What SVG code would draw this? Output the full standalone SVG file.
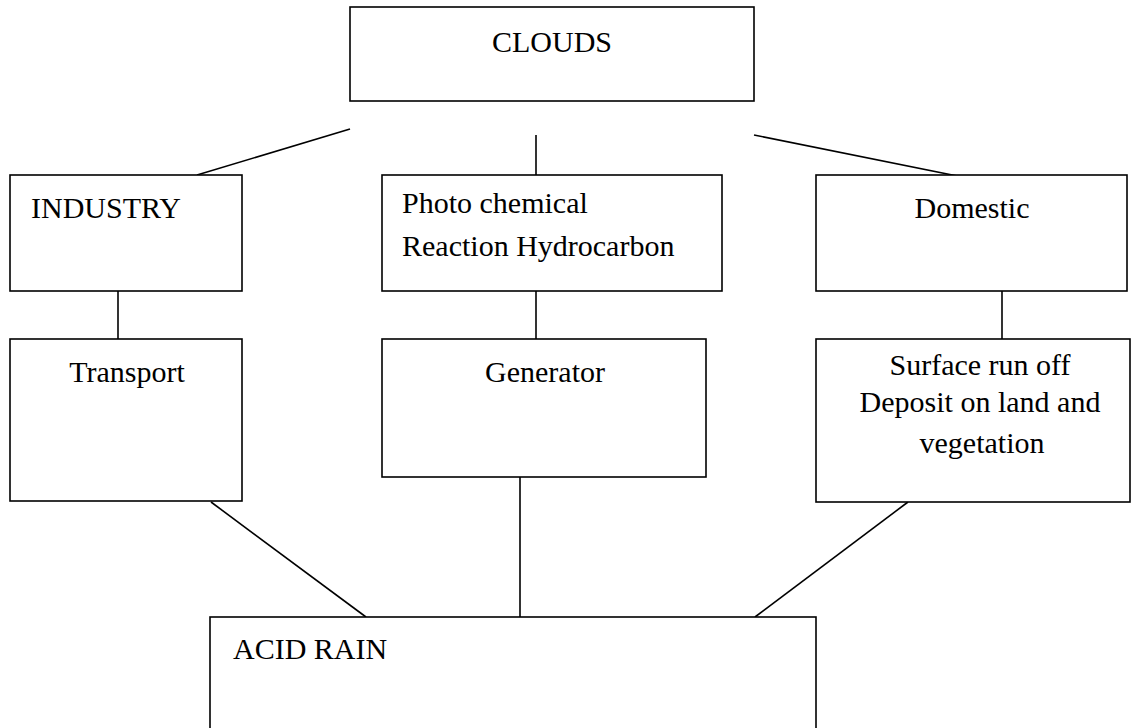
<svg xmlns="http://www.w3.org/2000/svg" width="1133" height="728" viewBox="0 0 1133 728">
<style>
.box{fill:#fff;stroke:#000;stroke-width:1.6}
.ln{stroke:#000;stroke-width:1.6;fill:none}
text{font-family:"Liberation Serif","Times New Roman",serif;font-size:30px;fill:#000}
.m{text-anchor:middle}
</style>
<rect width="1133" height="728" fill="#fff"/>
<g id="connectors">
<line class="ln" x1="350" y1="129" x2="197" y2="175"/>
<line class="ln" x1="536" y1="135" x2="536" y2="182"/>
<line class="ln" x1="754" y1="135" x2="987" y2="182"/>
<line class="ln" x1="118" y1="291" x2="118" y2="339"/>
<line class="ln" x1="536" y1="291" x2="536" y2="339"/>
<line class="ln" x1="1002" y1="291" x2="1002" y2="339"/>
<line class="ln" x1="211" y1="502" x2="366" y2="617"/>
<line class="ln" x1="520" y1="477" x2="520" y2="617"/>
<line class="ln" x1="908" y1="502" x2="755" y2="617"/>
</g>
<g id="clouds">
<rect class="box" x="350" y="7" width="404" height="94"/>
<text class="m" x="552" y="52">CLOUDS</text>
</g>
<g id="industry">
<rect class="box" x="10" y="175" width="232" height="116"/>
<text x="31" y="218">INDUSTRY</text>
</g>
<g id="photochemical">
<rect class="box" x="382" y="175" width="340" height="116"/>
<text x="402" y="213">Photo chemical</text>
<text x="402" y="256">Reaction Hydrocarbon</text>
</g>
<g id="domestic">
<rect class="box" x="816" y="175" width="311" height="116"/>
<text class="m" x="972" y="218">Domestic</text>
</g>
<g id="transport">
<rect class="box" x="10" y="339" width="232" height="162"/>
<text class="m" x="127" y="382">Transport</text>
</g>
<g id="generator">
<rect class="box" x="382" y="339" width="324" height="138"/>
<text class="m" x="545" y="382">Generator</text>
</g>
<g id="surface">
<rect class="box" x="816" y="339" width="314" height="163"/>
<text class="m" x="980" y="375">Surface run off</text>
<text class="m" x="980" y="412">Deposit on land and</text>
<text class="m" x="982" y="453">vegetation</text>
</g>
<g id="acidrain">
<rect class="box" x="210" y="617" width="606" height="140"/>
<text x="233" y="659">ACID RAIN</text>
</g>
</svg>
